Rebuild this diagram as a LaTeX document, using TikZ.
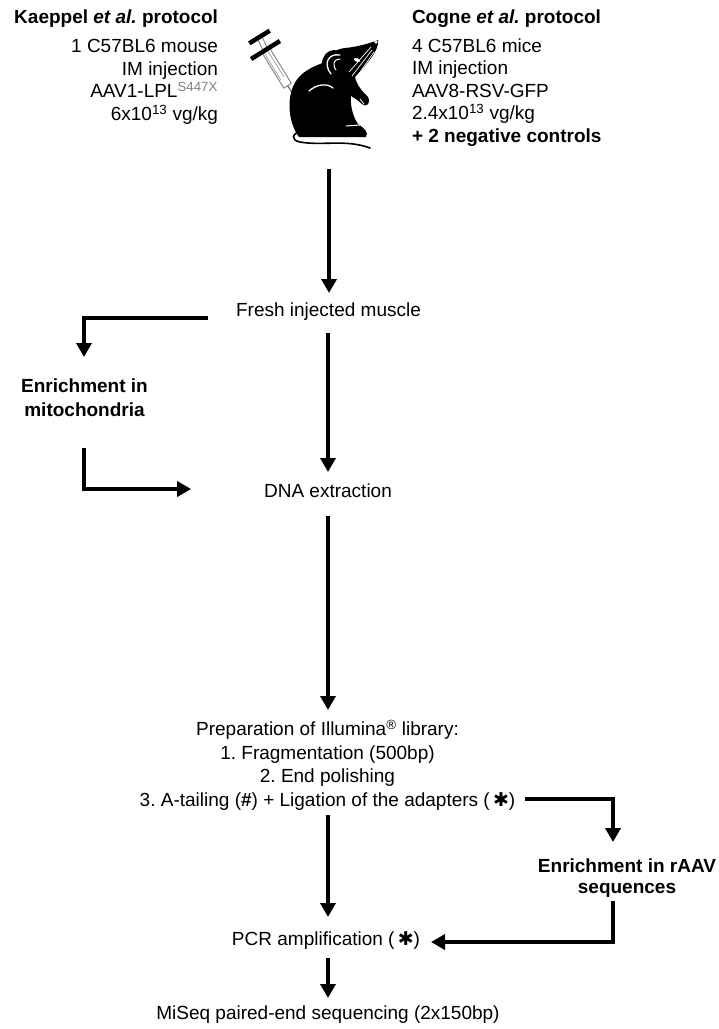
\documentclass[tikz,border=0pt]{standalone}
\usepackage{fontspec}
\setmainfont{Liberation Sans}
\newfontfamily\symfont{DejaVu Sans}
\usetikzlibrary{arrows.meta,calc}
\newcommand{\heavyast}{{\symfont ✱}}
\frenchspacing

\begin{document}
\begin{tikzpicture}[x=1pt,y=-1pt,
  every node/.style={inner sep=0pt, outer sep=0pt, font=\fontsize{19}{22.5}\selectfont},
  lbl/.style={text height=14pt, text depth=4pt},
  bold/.style={font=\fontsize{19}{24}\selectfont\bfseries},
  flow/.style={line width=4pt, -{Triangle[width=15pt,length=14pt]}},
  barrel/.style={draw=black!45, line width=1pt, fill=white},
  bar/.style={line width=4.5pt, black},
  detail/.style={white, line width=1pt, line cap=round}]

\useasboundingbox (0,0) rectangle (719,1029);

% ---------- protocol headers ----------
\node[anchor=base east, font=\fontsize{19}{22.5}\selectfont\bfseries] (ktitle) at (218,23)
  {Kaeppel \textit{et al.} protocol};
\node[anchor=north east, align=right] (kinfo) at (218,39.5)
  {1 C57BL6 mouse\\IM injection\\AAV1-LPL\textsuperscript{\color{black!50}S447X}\\6x10\textsuperscript{13} vg/kg};

\node[anchor=base west, font=\fontsize{19}{22.5}\selectfont\bfseries] (ctitle) at (412,23)
  {Cogne \textit{et al.} protocol};
\node[anchor=north west, align=left] (cinfo) at (412,38.5)
  {4 C57BL6 mice\\IM injection\\AAV8-RSV-GFP\\2.4x10\textsuperscript{13} vg/kg\\\textbf{+ 2 negative controls}};

% ---------- syringe ----------
\draw[barrel] (269.3,47.6) -- (291.4,83.3) -- (283.8,88.1) -- (261.7,52.4) -- cycle;
\draw[black!35, line width=0.8pt] (267.5,50.5) -- (284.0,77.0);
\draw[black!35, line width=0.8pt] (264.0,52.5) -- (280.5,79.5);
\draw[black!45, line width=1pt, fill=white] (261.6,35.7) -- (267.6,48.7) -- (263.4,51.3) -- (257.4,38.3) -- cycle;
\draw[black!55, line width=1.2pt] (287.6,85.7) -- (297,100);
\draw[bar] (249.3,43.3) -- (269.7,30.7);
\draw[bar] (251.1,59.0) -- (279.9,41.0);

% ---------- mouse ----------
\draw[black, line width=1.6pt, line cap=round]
  (302,131) .. controls (292,133) and (290,140) .. (300,142)
  .. controls (322,146) and (346,139) .. (370,148);
\fill[black] (297,134)
  .. controls (287,118) and (286,90) .. (300,76)
  .. controls (308,68) and (318,65) .. (325,62)
  .. controls (328,54) and (336,49) .. (345,48)
  .. controls (356,47) and (368,44) .. (378,40)
  .. controls (379,46) and (374,55) .. (368,62)
  .. controls (364,68) and (360,72) .. (355,77)
  .. controls (357,86) and (363,92) .. (368,97)
  .. controls (371,103) and (367,108) .. (362,104)
  .. controls (358,100) and (354,98) .. (351,96)
  .. controls (350,108) and (354,118) .. (358,124)
  .. controls (364,128) and (369,132) .. (366,137)
  -- (299,137) -- cycle;
\fill[black] (334,64) ellipse [x radius=12, y radius=14];
\draw[detail, line width=1.3pt] (331,74) .. controls (323,64) and (328,53) .. (340,55);
\draw[detail] (336,70) .. controls (332,64) and (334,59) .. (340,59);
\fill[white, rotate around={-20:(357,60)}] (357,60) ellipse [x radius=3.2, y radius=1.8];
\draw[detail, line width=0.7pt] (372,50) -- (352,76);
\draw[detail, line width=0.7pt] (374,52) -- (356,78);
\draw[detail, line width=0.7pt] (371,47) -- (349,72);
\draw[detail, line width=0.8pt] (376,42) circle (1.2);
\draw[detail, line width=1.3pt] (309,91) .. controls (317,84) and (327,83) .. (333,88);
\draw[detail, line width=1pt] (346,126) -- (360,125);
\draw[detail, line width=0.8pt] (360,99) -- (364,104);

% ---------- main flow ----------
\coordinate (spine) at (328,0);
\coordinate (src) at (329,169);

\node[lbl, anchor=base] (fresh) at (328.5,316) {Fresh injected muscle};
\node[lbl, anchor=base] (dna) at (328,497) {DNA extraction};
\node[bold, anchor=north, align=center] (mito) at (84.5,379)
  {Enrichment in\\mitochondria};
\node[anchor=north, align=center, font=\fontsize{19}{23.5}\selectfont] (prep) at (327.5,720)
  {Preparation of Illumina\textsuperscript{®} library:\\1. Fragmentation (500bp)\\2. End polishing\\3. A-tailing (\textbf{\#}) + Ligation of the adapters (\,\heavyast)};
\node[bold, anchor=north, align=center, font=\fontsize{19}{21}\selectfont\bfseries] (raav) at (627,859)
  {Enrichment in rAAV\\sequences};
\node[lbl, anchor=base] (pcr) at (326,945) {PCR amplification (\,\heavyast)};
\node[lbl, anchor=base] (miseq) at (328,1019) {MiSeq paired-end sequencing (2x150bp)};

\draw[flow, shorten >=9pt] (src) -- (fresh.north -| src);
\draw[flow, shorten <=13pt, shorten >=11pt] (fresh.south -| spine) -- (dna.north -| spine);
\draw[flow, shorten >=22pt] ($(fresh.base west)+(-28,2)$) -| (mito.north -| 84,0);
\draw[flow, shorten <=31pt] (mito.south -| 84,0) |- ($(dna.base west)+(-73,-8)$);
\draw[flow, shorten <=15pt, shorten >=10pt] (dna.south -| spine) -- (prep.north -| spine);
\draw[flow, shorten >=17pt] ($(prep.south east)+(10,-11)$) -| ($(raav.north)+(-14,0)$);
\draw[flow, shorten <=3pt] ($(raav.south)+(-14,0)$) |- ($(pcr.east)+(11,2)$);
\draw[flow, shorten <=5pt, shorten >=14pt] (prep.south -| spine) -- (pcr.north -| spine);
\draw[flow, shorten <=9pt, shorten >=7pt] (pcr.south -| spine) -- (miseq.north -| spine);

\end{tikzpicture}
\end{document}
